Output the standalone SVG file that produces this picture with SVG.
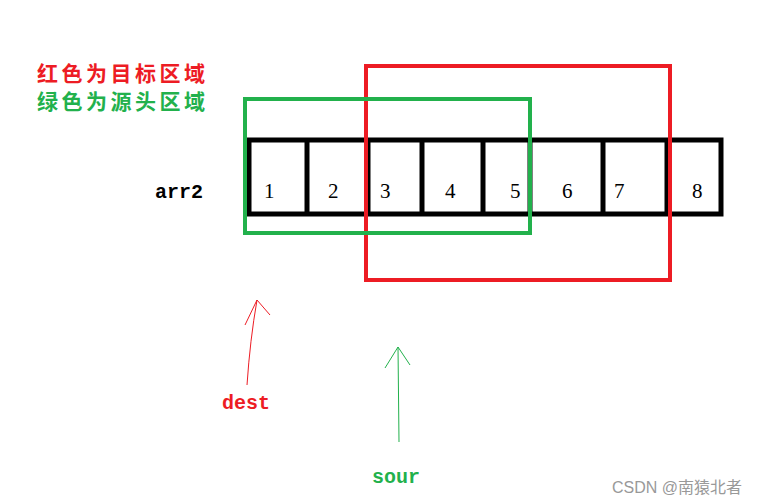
<svg xmlns="http://www.w3.org/2000/svg" width="765" height="504" viewBox="0 0 765 504">
<style>
.cell{fill:none;stroke:#000;stroke-width:5}
.n{font-family:"Liberation Serif",serif;font-size:21px}
.m{font-family:"Liberation Mono",monospace;font-size:20px;font-weight:bold}
.cn{font-family:"Noto Sans CJK SC",sans-serif;font-size:21px;font-weight:bold;letter-spacing:3.5px}
</style>
<rect width="765" height="504" fill="#fff"/>
<text class="cn" x="37" y="81" fill="#ed1c24">红色为目标区域</text>
<text class="cn" x="37" y="109" fill="#22b14c">绿色为源头区域</text>
<text class="m" x="155" y="198">arr2</text>
<g id="array">
<rect class="cell" x="249" y="140" width="472" height="74"/>
<line class="cell" x1="307" y1="140" x2="307" y2="214"/>
<line class="cell" x1="368" y1="140" x2="368" y2="214"/>
<line class="cell" x1="422" y1="140" x2="422" y2="214"/>
<line class="cell" x1="483" y1="140" x2="483" y2="214"/>
<line class="cell" x1="530" y1="140" x2="530" y2="214"/>
<line class="cell" x1="603" y1="140" x2="603" y2="214"/>
<line class="cell" x1="667" y1="140" x2="667" y2="214"/>
<text class="n" x="264" y="198">1</text>
<text class="n" x="328" y="198">2</text>
<text class="n" x="380" y="198">3</text>
<text class="n" x="445" y="198">4</text>
<text class="n" x="510" y="198">5</text>
<text class="n" x="562" y="198">6</text>
<text class="n" x="614" y="198">7</text>
<text class="n" x="692" y="198">8</text>
</g>
<g id="dest-region"><rect x="366" y="66" width="304" height="214" fill="none" stroke="#ed1c24" stroke-width="4"/></g>
<g id="src-region"><rect x="245" y="99" width="285" height="134" fill="none" stroke="#22b14c" stroke-width="4"/></g>
<g id="connectors" fill="none" stroke-width="1">
<path d="M247 385 Q250 340 257 300 M245 325 L257 300 L270 315" stroke="#ed1c24"/>
<path d="M399 442 L398 347 M385 368 L398 347 L410 365" stroke="#22b14c"/>
</g>
<text class="m" x="222" y="409" fill="#ed1c24">dest</text>
<text class="m" x="372" y="483" fill="#22b14c">sour</text>
<text x="612" y="493" font-family="'Liberation Sans','Noto Sans CJK SC',sans-serif" font-size="16" fill="#999">CSDN @南猿北者</text>
</svg>
